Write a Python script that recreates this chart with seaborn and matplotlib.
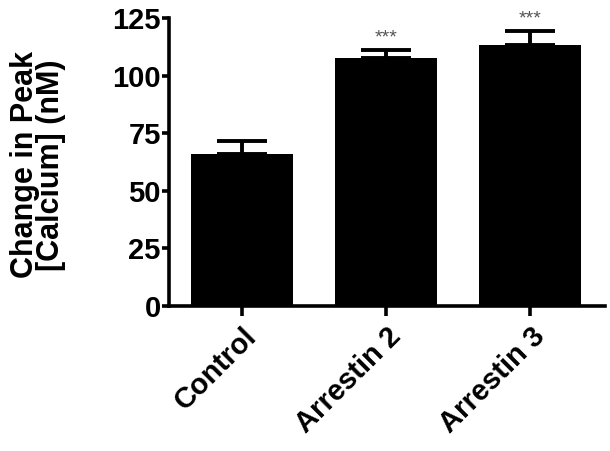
import matplotlib
matplotlib.use("Agg")
import matplotlib.pyplot as plt
import seaborn as sns
import pandas as pd

# Peak calcium change per condition (mean and SEM, nM)
conditions = ["Control", "Arrestin 2", "Arrestin 3"]
mean_change = [66.0, 107.5, 113.5]
sem_change = [5.5, 3.5, 6.0]
significance = ["", "***", "***"]
y_ticks = [0, 25, 50, 75, 100, 125]

sns.set_theme(style="ticks")
plt.rcParams["font.family"] = ["Liberation Sans", "DejaVu Sans"]
plt.rcParams["font.weight"] = "bold"

df = pd.DataFrame({"condition": conditions, "change": mean_change})

fig = plt.figure(figsize=(6.10, 4.51), dpi=100)
ax = fig.add_axes([0.277, 0.3215, 0.715, 0.6385])

sns.barplot(data=df, x="condition", y="change", color="black",
            saturation=1, width=0.71, errorbar=None, ax=ax,
            edgecolor="black", linewidth=0)

# upper-only error bars
ax.errorbar(range(len(conditions)), mean_change,
            yerr=[[0] * len(conditions), sem_change],
            fmt="none", ecolor="black", elinewidth=2.8,
            capsize=18, capthick=2.8)

for i, (m, s, lab) in enumerate(zip(mean_change, sem_change, significance)):
    if lab:
        ax.text(i, m + s + 1.5, lab, ha="center", va="bottom",
                fontsize=14, color="#555555", fontweight="normal")

ax.set_ylim(0, 125)
ax.set_xlim(-0.51, 2.52)
ax.set_yticks(y_ticks)
ax.set_yticklabels([str(t) for t in y_ticks], fontsize=21,
                   fontweight="bold", color="black")
ax.set_xticks(range(len(conditions)))
ax.set_xticklabels(conditions, fontsize=21, fontweight="bold", color="black",
                   rotation=45, ha="right", rotation_mode="anchor")

ax.set_xlabel("")
ax.set_ylabel("Change in Peak\n[Calcium] (nM)", fontsize=22,
              fontweight="bold", linespacing=0.85, color="black")
ax.yaxis.set_label_coords(-0.235, 0.49)

for side in ["top", "right"]:
    ax.spines[side].set_visible(False)
for side in ["left", "bottom"]:
    ax.spines[side].set_linewidth(2.6)
    ax.spines[side].set_color("black")

ax.tick_params(axis="y", length=5, width=2.6, pad=1, colors="black")
ax.tick_params(axis="x", length=7, width=2.6, pad=5, colors="black")

fig.savefig("out.png", dpi=100)
